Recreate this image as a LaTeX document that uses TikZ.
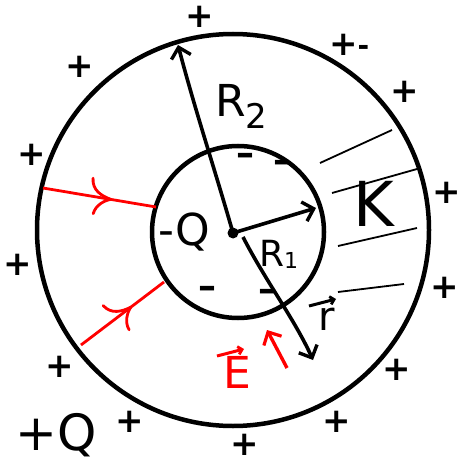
\documentclass[tikz,border=0pt]{standalone}
\usepackage{fontspec}
\setmainfont{DejaVu Sans}
\usetikzlibrary{arrows.meta,decorations.markings}
\definecolor{pen}{RGB}{255,0,0}
\begin{document}
\begin{tikzpicture}[x=1pt,y=-1pt,
  circ/.style={draw=black,line width=4.5pt},
  radius arrow/.style={line width=3.6pt,-{Straight Barb[length=10pt,width=20pt,line width=3.4pt]}},
  fieldline/.style={draw=pen,line width=2.8pt,postaction={decorate},
    decoration={markings,mark=at position 0.6 with {\draw[pen,line width=2.8pt,line cap=round,line join=round] (-15pt,-17pt) .. controls (-14pt,-8pt) and (-6pt,-2pt) .. (0pt,0pt) .. controls (-10pt,2pt) and (-20pt,6pt) .. (-21pt,18pt);}}},
  hatch/.style={line width=1.8pt},
  sign/.style={font=\fontsize{34}{34}\bfseries\selectfont,inner sep=0pt},
  minus/.style={font=\fontsize{36}{36}\bfseries\selectfont,inner sep=0pt},
  lbl/.style={font=\fontsize{44}{44}\selectfont,inner sep=0pt}]
\useasboundingbox (0,0) rectangle (464,465);
% circles
\node[circ,circle,minimum size=392pt,inner sep=0pt] (outer) at (233,230) {};
\node[circ,circle,minimum size=172pt,inner sep=0pt] (inner) at (238,232) {};
\coordinate (c) at (233,233);
\fill (c) circle (5.5pt);
\coordinate (r2end) at (178,45);
\coordinate (r1end) at (316,208);
\coordinate (rstart) at (243,237);
\coordinate (rend) at (313,360);
\draw[radius arrow] (c) .. controls (215,170) and (195,110) .. (r2end);
\draw[radius arrow] (c) -- (r1end);
\draw[radius arrow] (rstart) .. controls (265,280) and (295,320) .. (rend);
% labels
\node[lbl,anchor=base west] (R2) at (215,117) {R\raisebox{-12pt}{\fontsize{34}{34}\selectfont 2}};
\node[lbl,font=\fontsize{36}{36}\selectfont,anchor=base west] (R1) at (259,266) {R\raisebox{-2pt}{\fontsize{22}{22}\selectfont 1}};
\node[lbl,anchor=base west] (mQ) at (158,245) {-Q};
\node[lbl,font=\fontsize{62}{62}\selectfont\addfontfeatures{FakeBold=-0.3}] (K) at (374,204) {K};
\node[lbl,font=\fontsize{40}{40}\selectfont,anchor=base] (rvec) at (327,330) {r};
\draw[line width=3pt,-{Straight Barb[length=4pt,width=8pt,line width=2.8pt]}] (309,306) -- (336,299);
\node[lbl,font=\fontsize{50}{50}\selectfont,anchor=base] (pQ) at (56,450) {+Q};
\node[lbl,text=pen,anchor=base] (E) at (237,388) {E};
\draw[pen,line width=3pt,-{Straight Barb[length=4pt,width=8pt,line width=2.8pt]}] (217,356) -- (244,349);
% red field lines
\coordinate (f1a) at (43,188);
\coordinate (f1b) at (156,207);
\coordinate (f2a) at (81,345);
\coordinate (f2b) at (164,282);
\path[fieldline] (f1a) -- (f1b);
\path[fieldline] (f2a) -- (f2b);
\coordinate (ea) at (287,368);
\coordinate (eb) at (267,330);
\draw[pen,line width=3.4pt,-{Straight Barb[length=10pt,width=20pt,line width=3.2pt]}] (ea) -- (eb);
% hatching of dielectric
\draw[hatch] (320,163) -- (392,130);
\draw[hatch] (332,193) -- (417,169);
\draw[hatch] (338,246) -- (417,228);
\draw[hatch] (338,292) -- (404,284);
% minus signs on inner surface
\foreach \p/\n in {{(245,159)}/m1,{(282,166)}/m2,{(207,292)}/m3,{(267,295)}/m4}
  \node[minus] (\n) at \p {–};
% plus signs outside
\foreach \p/\n in {{(200,17)}/p1,{(80,67)}/p2,{(405,92)}/p3,{(32,155)}/p4,{(447,193)}/p5,{(18,265)}/p6,{(445,288)}/p7,{(60,367)}/p8,{(397,370)}/p9,{(130,422)}/p10,{(337,422)}/p11,{(245,445)}/p12}
  \node[sign] (\n) at \p {+};
\node[sign,anchor=west] (p13) at (329,45) {+\fontsize{28}{28}\selectfont -};
\end{tikzpicture}
\end{document}
